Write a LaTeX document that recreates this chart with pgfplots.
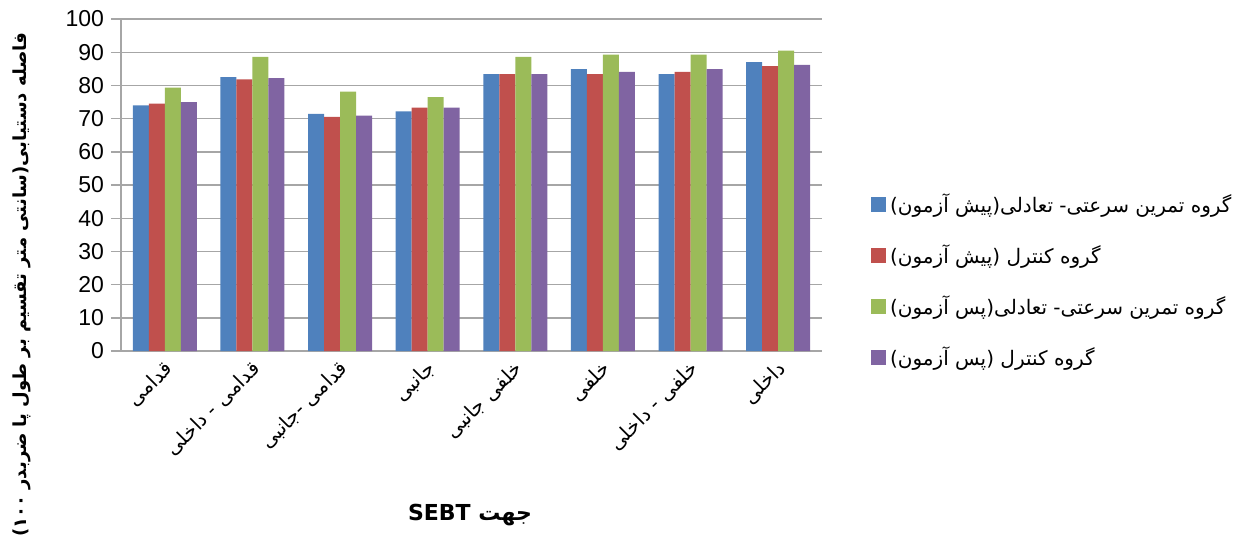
\documentclass[border=0pt]{standalone}
\usepackage{fontspec}
\setmainfont{Liberation Sans}
\newfontfamily\arabicfont[Script=Arabic]{DejaVu Sans}
\TeXXeTstate=1
\usepackage{pgfplots}
\usepackage{pgfplotstable}
\pgfplotsset{compat=1.18}

\definecolor{cblue}{HTML}{4F81BD}
\definecolor{cred}{HTML}{C0504D}
\definecolor{cgreen}{HTML}{9BBB59}
\definecolor{cpurple}{HTML}{8064A2}
\definecolor{gridgray}{HTML}{A6A6A6}

% x  preTrain preCtrl postTrain postCtrl
\pgfplotstableread{
x  a     b     c     d
0  74.0  74.5  79.3  75.0
1  82.5  81.8  88.6  82.2
2  71.4  70.5  78.1  70.9
3  72.2  73.3  76.5  73.3
4  83.4  83.4  88.6  83.4
5  84.9  83.4  89.3  84.1
6  83.4  84.1  89.3  84.9
7  87.0  85.8  90.5  86.2
}\datatable

\newcommand{\ar}[1]{{\arabicfont\beginR #1\endR}}

\begin{document}
\begin{tikzpicture}
\begin{axis}[
    scale only axis,
    width=350.5pt, height=166pt,
    ybar=0pt,
    bar width=8pt,
    xmin=-0.5, xmax=7.5,
    ymin=0, ymax=100,
    ytick={0,10,...,100},
    xtick={0,...,7},
    xticklabels={\ar{قدامی}, \ar{قدامی - داخلی}, \ar{قدامی -جانبی}, \ar{جانبی},
                 \ar{خلفی جانبی}, \ar{خلفی}, \ar{خلفی - داخلی}, \ar{داخلی}},
    x tick label style={rotate=45, anchor=east, font=\fontsize{10}{12}\selectfont,
                        inner sep=1pt, yshift=-3pt, xshift=1pt},
    y tick label style={font=\fontsize{11.5}{13}\selectfont},
    /pgf/number format/assume math mode=true,
    major x tick style={draw=none},
    ytick style={draw=gridgray, line width=0.7pt},
    tick align=outside,
    major tick length=5pt,
    ymajorgrids,
    grid style={gridgray, line width=0.7pt},
    axis x line*=bottom,
    axis y line*=left,
    axis line style={gridgray, line width=0.7pt, -},
    ylabel={\ar{\bfseries فاصله دستیابی(سانتی متر تقسیم بر طول پا ضربدر ۱۰۰)}},
    ylabel style={at={(axis description cs:-0.141,0.2)}, anchor=center, rotate=0,
                  font=\fontsize{9}{10}\selectfont},
    xlabel={{\arabicfont\bfseries\beginR جهت \beginL SEBT\endL\endR}},
    xlabel style={at={(axis description cs:0.498,-0.494)}, anchor=center,
                  font=\fontsize{11}{13}\selectfont},
    legend style={draw=none, fill=none, at={(axis description cs:1.061,0.498)}, anchor=north west,
                  font=\fontsize{10}{12}\selectfont, row sep=10.5pt,
                  /tikz/every even column/.append style={column sep=2pt}},
    legend cell align=left,
    legend image code/.code={\fill[#1] (0pt,-3.75pt) rectangle (7.5pt,3.75pt);},
    every axis plot/.append style={draw=none},
]
\addplot[fill=cblue] table[x=x, y=a] {\datatable};
\addlegendentry{\ar{گروه تمرین سرعتی- تعادلی(پیش آزمون)}}
\addplot[fill=cred] table[x=x, y=b] {\datatable};
\addlegendentry{\ar{گروه کنترل (پیش آزمون)}}
\addplot[fill=cgreen] table[x=x, y=c] {\datatable};
\addlegendentry{\ar{گروه تمرین سرعتی- تعادلی(پس آزمون)}}
\addplot[fill=cpurple] table[x=x, y=d] {\datatable};
\addlegendentry{\ar{گروه کنترل (پس آزمون)}}
\end{axis}
\pgfresetboundingbox
\useasboundingbox (-60.5pt,-97.5pt) rectangle (563pt,175.5pt);
\end{tikzpicture}
\end{document}
